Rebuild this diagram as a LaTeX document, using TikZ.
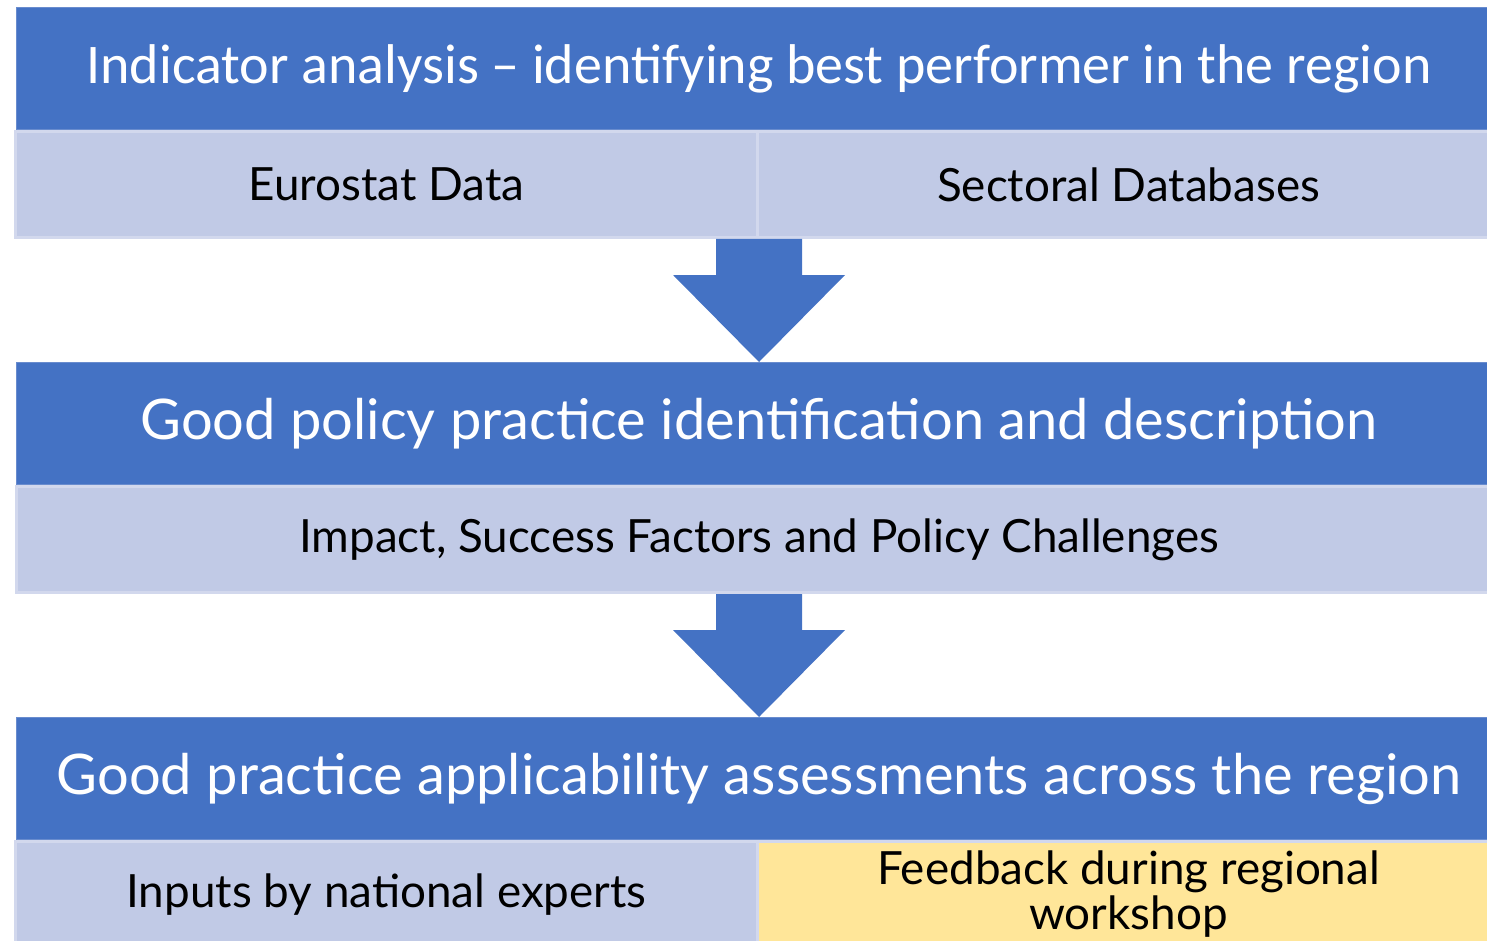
\documentclass[tikz,border=0pt]{standalone}
\usepackage{fontspec}
\setmainfont{Lato}
\newfontfamily\calibrifont{Carlito}
\usetikzlibrary{positioning, calc}
\definecolor{headblue}{RGB}{68,114,196}
\definecolor{headline}{RGB}{105,140,206}
\definecolor{cellblue}{RGB}{193,202,230}
\definecolor{cellline}{RGB}{210,216,237}
\definecolor{cellyellow}{RGB}{255,230,153}
\tikzset{head/.style = {
  % Rectangle:
  rectangle,
  fill=headblue, draw=headline, line width=1pt,
  minimum width=1486pt, minimum height=122pt,
  % Text
  text=white, text centered,
  font=\fontsize{56}{60}\selectfont
  }}
\tikzset{cell/.style = {
  % Rectangle:
  rectangle,
  fill=cellblue, draw=cellline, line width=3pt,
  minimum width=742pt, minimum height=106pt,
  % Text
  text=black, text centered, align=center,
  font=\fontsize{45.8}{45}\selectfont
  }}
\tikzset{wide/.style = {
  cell,
  minimum width=1486pt
  }}
\tikzset{note/.style = {
  cell,
  fill=cellyellow
  }}
\tikzset{arrowfill/.style = {
  fill=headblue
  }}
\newcommand{\flowarrow}[2]{%
  \fill[arrowfill] ($(#1)+(-43,0)$) -- ($(#1)+(43,0)$) -- ($(#1)+(43,36)$)
    -- ($(#1)+(86,36)$) -- (#2) -- ($(#1)+(-86,36)$) -- ($(#1)+(-43,36)$) -- cycle;}

\begin{document}
\begin{tikzpicture}[x=1pt, y=-1pt]
\useasboundingbox (0,0) rectangle (1487,941);

% NODES
\node (indicator) [head, font=\calibrifont\fontsize{56}{60}\selectfont] at (759,68.5) {Indicator analysis – identifying best performer in the region};
\node (eurostat) [cell, below=0pt of indicator.south west, anchor=north west, xshift=-1.5pt] {Eurostat Data};
\node (sectoral) [cell, right=-3pt of eurostat] {Sectoral Databases};

\node (policy) [head, below=123pt of eurostat.south east] {Good policy practice identification and description};
\node (impact) [wide, below=0pt of policy] {Impact, Success Factors and Policy Challenges};

\node (applicability) [head, below=123pt of impact] {Good practice applicability assessments across the region};
\node (experts) [cell, below=0pt of applicability.south west, anchor=north west, xshift=-1.5pt] {Inputs by national experts};
\node (workshop) [note, right=-3pt of experts] {Feedback during regional\\workshop};

% arrows
\flowarrow{eurostat.south east}{policy.north}
\flowarrow{impact.south}{applicability.north}
\end{tikzpicture}
\end{document}
